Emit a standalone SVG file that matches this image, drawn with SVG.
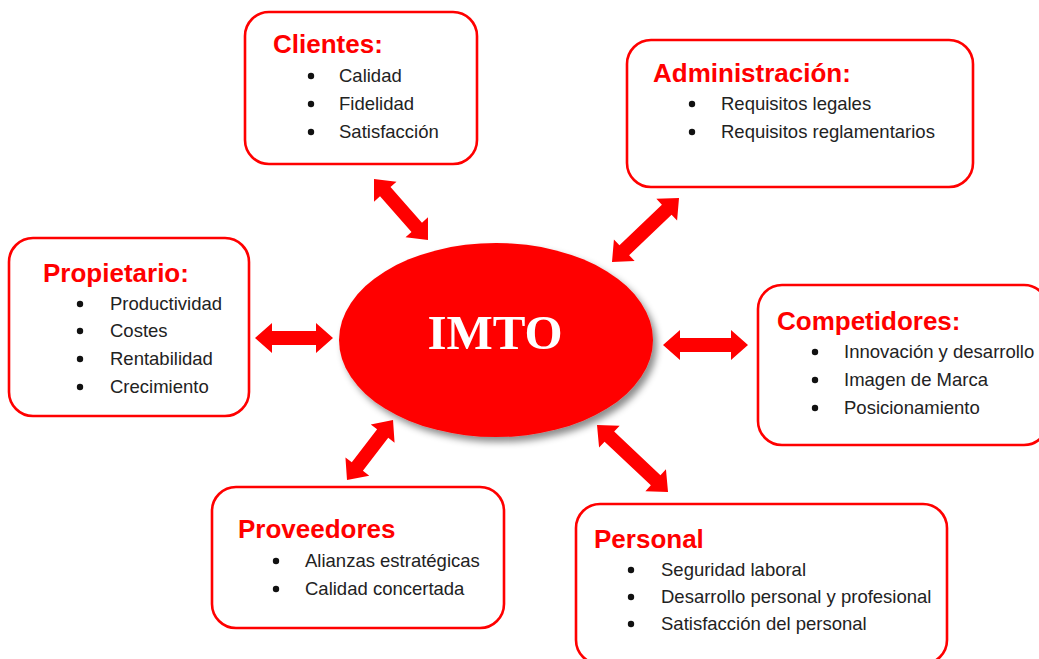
<svg xmlns="http://www.w3.org/2000/svg" width="1039" height="659" viewBox="0 0 1039 659">
  <defs>
    <filter id="sh" x="-20%" y="-20%" width="150%" height="150%">
      <feDropShadow dx="4" dy="5" stdDeviation="3.5" flood-color="#000" flood-opacity="0.45"/>
    </filter>
    <style>
      .box { fill: #fff; stroke: #ff0000; stroke-width: 2.6; }
      .title { font-family: "Liberation Sans", Arial, sans-serif; font-weight: bold; font-size: 26px; fill: #ff0000; }
      .item { font-family: "Liberation Sans", Arial, sans-serif; font-size: 18.5px; fill: #222; }
      .dot { fill: #111; }
      .arr { fill: #ff0000; }
    </style>
  </defs>
  <rect width="1039" height="659" fill="#fff"/>

  <g id="connectors">
    <g transform="translate(374,179) rotate(48.5)"><polygon class="arr" points="0,0 17,-15 17,-7 64.5,-7 64.5,-15 81.5,0 64.5,15 64.5,7 17,7 17,15"/></g>
    <g transform="translate(612,262) rotate(-43.7)"><polygon class="arr" points="0,0 17,-15 17,-7 75.7,-7 75.7,-15 92.7,0 75.7,15 75.7,7 17,7 17,15"/></g>
    <g transform="translate(255,338)"><polygon class="arr" points="0,0 17,-15 17,-7 61,-7 61,-15 78,0 61,15 61,7 17,7 17,15"/></g>
    <g transform="translate(663,345)"><polygon class="arr" points="0,0 17,-15 17,-7 68,-7 68,-15 85,0 68,15 68,7 17,7 17,15"/></g>
    <g transform="translate(597,425) rotate(43.3)"><polygon class="arr" points="0,0 17,-15 17,-7 80.6,-7 80.6,-15 97.6,0 80.6,15 80.6,7 17,7 17,15"/></g>
    <g transform="translate(347,480) rotate(-52.5)"><polygon class="arr" points="0,0 17,-15 17,-7 58.6,-7 58.6,-15 75.6,0 58.6,15 58.6,7 17,7 17,15"/></g>
  </g>

  <g id="imto">
    <ellipse cx="496" cy="340" rx="157" ry="97" fill="#ff0000" filter="url(#sh)"/>
    <text x="495" y="349" text-anchor="middle" font-family="'Liberation Serif', 'DejaVu Serif', serif" font-weight="bold" font-size="49" fill="#fff">IMTO</text>
  </g>

  <g id="clientes">
    <rect class="box" x="245" y="12" width="232" height="152" rx="24"/>
    <text class="title" x="273" y="53">Clientes:</text>
    <circle class="dot" cx="311" cy="76" r="3.2"/><text class="item" x="339" y="82">Calidad</text>
    <circle class="dot" cx="311" cy="104" r="3.2"/><text class="item" x="339" y="110">Fidelidad</text>
    <circle class="dot" cx="311" cy="132" r="3.2"/><text class="item" x="339" y="138">Satisfacción</text>
  </g>

  <g id="administracion">
    <rect class="box" x="627" y="40" width="346" height="147" rx="24"/>
    <text class="title" x="653" y="82">Administración:</text>
    <circle class="dot" cx="692" cy="104" r="3.2"/><text class="item" x="721" y="110">Requisitos legales</text>
    <circle class="dot" cx="692" cy="132" r="3.2"/><text class="item" x="721" y="138">Requisitos reglamentarios</text>
  </g>

  <g id="propietario">
    <rect class="box" x="9" y="238" width="240" height="178" rx="24"/>
    <text class="title" x="43" y="282">Propietario:</text>
    <circle class="dot" cx="80" cy="304" r="3.2"/><text class="item" x="110" y="310">Productividad</text>
    <circle class="dot" cx="80" cy="331" r="3.2"/><text class="item" x="110" y="337">Costes</text>
    <circle class="dot" cx="80" cy="359" r="3.2"/><text class="item" x="110" y="365">Rentabilidad</text>
    <circle class="dot" cx="80" cy="387" r="3.2"/><text class="item" x="110" y="393">Crecimiento</text>
  </g>

  <g id="competidores">
    <rect class="box" x="758" y="285" width="290" height="160" rx="24"/>
    <text class="title" x="777" y="330">Competidores:</text>
    <circle class="dot" cx="815" cy="352" r="3.2"/><text class="item" x="844" y="358">Innovación y desarrollo</text>
    <circle class="dot" cx="815" cy="380" r="3.2"/><text class="item" x="844" y="386">Imagen de Marca</text>
    <circle class="dot" cx="815" cy="408" r="3.2"/><text class="item" x="844" y="414">Posicionamiento</text>
  </g>

  <g id="proveedores">
    <rect class="box" x="212" y="487" width="292" height="141" rx="24"/>
    <text class="title" x="238" y="538">Proveedores</text>
    <circle class="dot" cx="276" cy="561" r="3.2"/><text class="item" x="305" y="567">Alianzas estratégicas</text>
    <circle class="dot" cx="276" cy="589" r="3.2"/><text class="item" x="305" y="595">Calidad concertada</text>
  </g>

  <g id="personal">
    <rect class="box" x="576" y="504" width="371" height="160" rx="24"/>
    <text class="title" x="594" y="548">Personal</text>
    <circle class="dot" cx="631" cy="570" r="3.2"/><text class="item" x="661" y="576">Seguridad laboral</text>
    <circle class="dot" cx="631" cy="597" r="3.2"/><text class="item" x="661" y="603">Desarrollo personal y profesional</text>
    <circle class="dot" cx="631" cy="624" r="3.2"/><text class="item" x="661" y="630">Satisfacción del personal</text>
  </g>
</svg>
